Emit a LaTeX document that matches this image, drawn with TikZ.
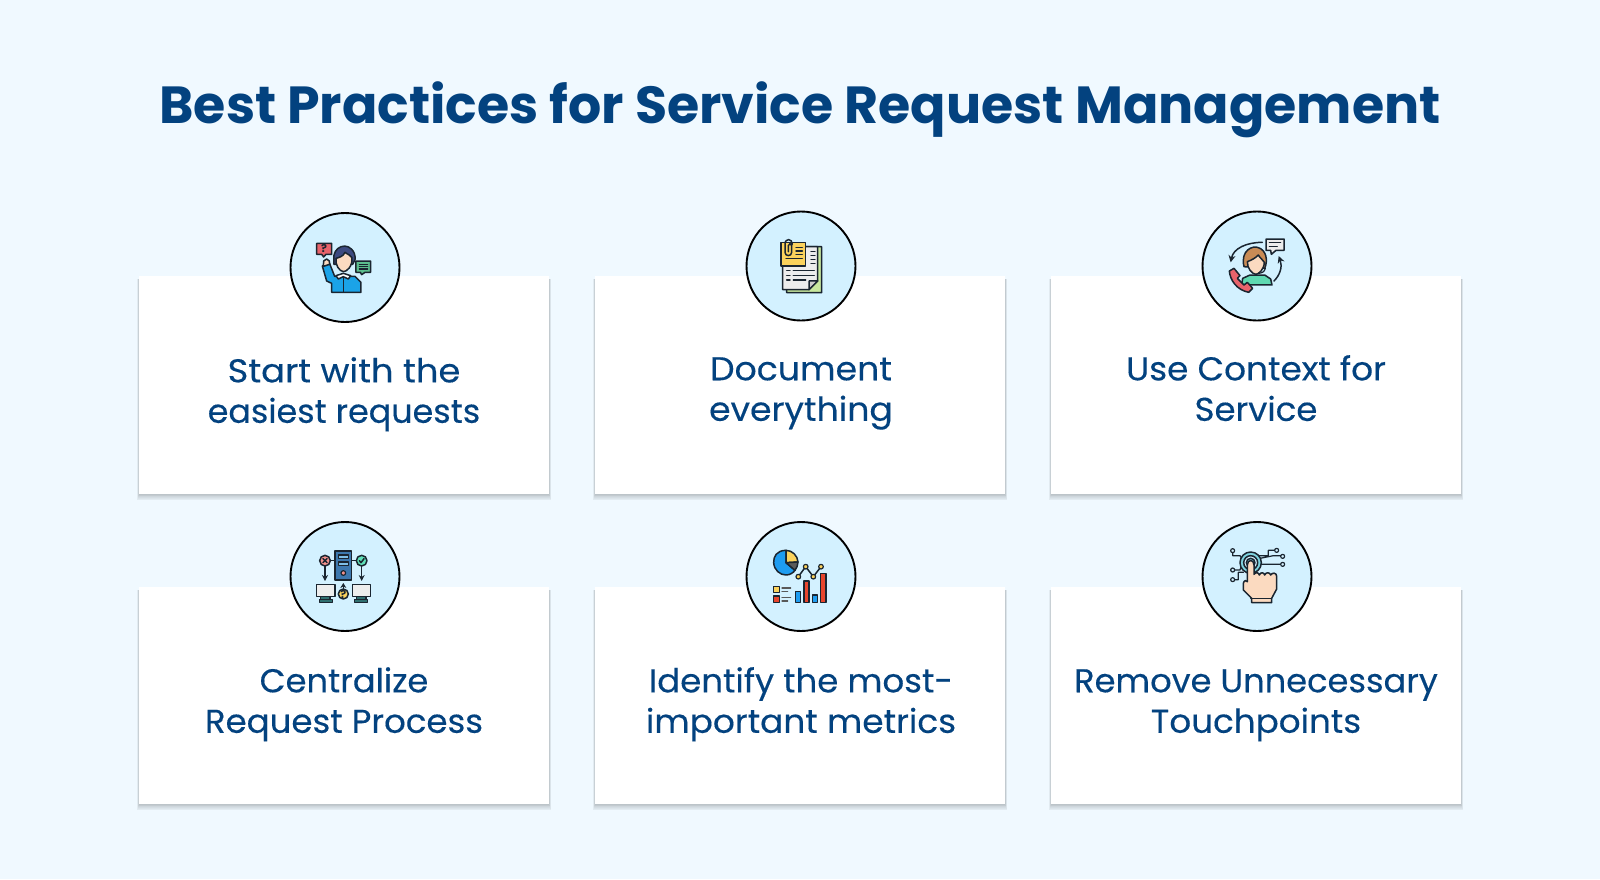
\documentclass[tikz,border=0pt]{standalone}
\usepackage{fontspec}
\usepackage{graphicx}
\setmainfont{Poppins}
\newfontfamily\bodyfont[FakeBold=0.3]{Poppins}
\usetikzlibrary{arrows.meta}
\definecolor{pagebg}{HTML}{F0F9FF}
\definecolor{navy}{HTML}{03427F}
\definecolor{disc}{HTML}{D3F1FF}
\definecolor{ink}{HTML}{1A2530}
\definecolor{skin}{HTML}{FBDAC0}
\definecolor{rosy}{HTML}{E8636B}
\definecolor{leaf}{HTML}{5CBF8E}
\definecolor{sky}{HTML}{1BA3E8}
\definecolor{hairdark}{HTML}{3C4A80}
\definecolor{hairtan}{HTML}{C98B55}
\definecolor{mint}{HTML}{5FD8B0}
\definecolor{sun}{HTML}{FBD25C}
\definecolor{paleleaf}{HTML}{C8E89E}
\definecolor{paper}{HTML}{EDEDED}
\definecolor{steel}{HTML}{3D78AE}
\definecolor{steellt}{HTML}{7FC0E8}
\definecolor{pinkish}{HTML}{F2918C}
\definecolor{aqua}{HTML}{5FE0B8}
\definecolor{darkteal}{HTML}{2F6F6F}
\definecolor{flame}{HTML}{E8452C}
\definecolor{pieblue}{HTML}{1E9CF0}
\definecolor{ringblue}{HTML}{7FD4E0}
\tikzset{
  x=1pt,y=-1pt,
  cardbox/.style={fill=white,draw=none},
  badge/.style={circle,draw=black,line width=1.9pt,fill=disc,minimum size=109pt,inner sep=0pt},
  cardtext/.style={font=\bodyfont\fontsize{33}{40.5}\selectfont,text=navy,align=center,inner sep=0pt,text depth=0pt},
  ol/.style={draw=ink,line width=1.5pt,line join=round,line cap=round},
  thin/.style={draw=ink,line width=1.2pt,line cap=round,line join=round},
}
\newcommand{\cardat}[5]{% name, x0,y0,x1,y1
  \foreach \o in {8,7,6,5,4,3,2,1}{
    \fill[black,opacity=.028] (#2-\o*.25,#3+3) rectangle (#4+\o*.25,#5+\o*.8);
  }
  \node[cardbox,anchor=north west,minimum width={#4-#2},minimum height={#5-#3},inner sep=0pt,outer sep=0pt] (#1) at (#2,#3) {};
}
\newcommand{\wline}[2]{\scalebox{#1}[1]{#2}}
\begin{document}
\begin{tikzpicture}
\useasboundingbox (0,0) rectangle (1600,879);
\fill[pagebg] (0,0) rectangle (1600,879);
\node[font=\fontsize{52.2}{60}\selectfont\bfseries,text=navy,inner sep=0pt] (title) at (800,110) {Best Practices for Service Request Management};

\cardat{c1}{139}{276}{549}{494}
\cardat{c2}{595}{276}{1005}{494}
\cardat{c3}{1051}{276}{1461}{494}
\cardat{c4}{139}{587}{549}{804}
\cardat{c5}{595}{587}{1005}{804}
\cardat{c6}{1051}{587}{1461}{804}

\node[badge] (b1) at (345,267.5) {};
\node[badge] (b2) at (801,266) {};
\node[badge] (b3) at (1257,266) {};
\node[badge] (b4) at (345,576.5) {};
\node[badge] (b5) at (801,576.5) {};
\node[badge] (b6) at (1257,576.5) {};

\node[cardtext] (t1) at (344,390) {\wline{1.07}{Start with the}\\\wline{1.01}{easiest requests}};
\node[cardtext] (t2) at (801,389) {\wline{1.05}{Document}\\\wline{1.05}{everything}};
\node[cardtext] (t3) at (1256,388) {\wline{1.04}{Use Context for}\\\wline{1.03}{Service}};
\node[cardtext] (t4) at (344,700) {\wline{1.02}{Centralize}\\\wline{1.03}{Request Process}};
\node[cardtext] (t5) at (801,700) {\wline{1.03}{Identify the most-}\\\wline{1.04}{important metrics}};
\node[cardtext] (t6) at (1256,701) {\wline{1.02}{Remove Unnecessary}\\\wline{1.035}{Touchpoints}};

% ---------- icon 1
\begin{scope}[shift={(280,205)},x=.3333pt,y=-.3333pt]
  \filldraw[ol,fill=rosy] (110,115) -- (155,115) -- (155,148) -- (138,148) -- (131,156) -- (125,148) -- (110,148) -- cycle;
  \node[font=\bfseries\fontsize{11}{11}\selectfont,text=ink,inner sep=0pt] (q1) at (132,131) {?};
  \filldraw[ol,fill=leaf] (228,168) -- (272,168) -- (272,202) -- (255,202) -- (245,209) -- (241,202) -- (228,202) -- cycle;
  \draw[thin] (238,178)--(263,178) (238,185)--(263,185) (238,192)--(263,192);
  \filldraw[ol,fill=sky] (127,183) -- (149,176) -- (164,214) -- (225,214) -- (243,232) -- (243,262) -- (155,262) -- (155,235) -- (140,228) -- cycle;
  \filldraw[ol,fill=skin] (130,184) -- (131,168) -- (140,162) -- (148,168) -- (149,178) -- cycle;
  \filldraw[ol,fill=white] (168,212) -- (190,205) -- (212,212) -- (205,222) -- (190,215) -- (175,222) -- cycle;
  \draw[thin] (190,216) -- (190,262);
  \filldraw[ol,fill=hairdark] (162,165) .. controls (155,125) and (205,105) .. (223,145) .. controls (228,160) and (225,170) .. (218,178) -- (162,178) -- cycle;
  \filldraw[ol,fill=skin] (168,160) .. controls (175,158) and (190,155) .. (195,142) .. controls (205,150) and (212,150) .. (216,158) .. controls (218,185) and (200,200) .. (190,200) .. controls (178,198) and (165,180) .. (168,160) -- cycle;
\end{scope}

% ---------- icon 2
\begin{scope}[shift={(735,205)},x=.3333pt,y=-.3333pt]
  \filldraw[ol,fill=paleleaf] (190,125) -- (260,125) -- (260,263) -- (155,263) -- (155,245) -- cycle;
  \filldraw[ol,fill=paper] (143,125) -- (248,125) -- (248,228) -- (222,254) -- (143,254) -- cycle;
  \filldraw[ol,fill=gray!40] (222,254) -- (222,228) -- (248,228) -- cycle;
  \draw[thin,line width=1.4pt] (228,140)--(240,140) (228,152)--(240,152) (228,164)--(240,164) (228,176)--(240,176);
  \draw[thin,line width=1.4pt] (155,197)--(165,197) (175,197)--(238,197) (155,211)--(165,211) (175,211)--(238,211) (155,225)--(165,225) (175,225)--(212,225);
  \filldraw[ol,fill=sun] (138,112) -- (212,112) -- (212,183) -- (138,183) -- cycle;
  \draw[ol] (172,118) .. controls (172,100) and (150,98) .. (150,118) -- (150,142) .. controls (150,155) and (170,155) .. (170,142) -- (170,122) .. controls (170,114) and (160,114) .. (160,122) -- (160,140);
  \draw[thin,line width=1.4pt] (183,128)--(202,128) (183,138)--(202,138) (183,148)--(202,148) (153,160)--(202,160);
\end{scope}

% ---------- icon 3
\begin{scope}[shift={(1190,205)},x=.3333pt,y=-.3333pt]
  \draw[ol,-{Stealth[length=7pt,width=7pt]}] (217,112) .. controls (170,112) and (130,130) .. (122,172);
  \draw[ol,-{Stealth[length=7pt,width=7pt]}] (252,228) .. controls (270,210) and (278,185) .. (266,153);
  \filldraw[ol,fill=paper] (228,102) -- (282,102) -- (282,136) -- (258,136) -- (244,148) -- (242,136) -- (228,136) -- cycle;
  \draw[thin] (238,113)--(272,113) (238,124)--(262,124);
  \filldraw[ol,fill=mint] (155,240) -- (158,220) -- (180,210) -- (224,210) -- (242,222) -- (246,240) -- cycle;
  \filldraw[ol,fill=hairtan] (162,185) .. controls (150,135) and (190,120) .. (205,128) .. controls (228,135) and (235,165) .. (224,190) -- cycle;
  \filldraw[ol,fill=skin] (172,170) .. controls (185,165) and (195,160) .. (205,150) .. controls (210,160) and (220,165) .. (223,172) .. controls (222,195) and (205,208) .. (197,208) .. controls (185,206) and (172,190) .. (172,170) -- cycle;
  \draw[thin] (226,190) .. controls (224,200) and (215,205) .. (205,205);
  \filldraw[ol,fill=rosy] (118,198) -- (132,190) -- (150,212) -- (142,220) -- (162,240) -- (172,232) -- (188,250) -- (176,262) .. controls (140,255) and (120,225) .. (118,198) -- cycle;
\end{scope}

% ---------- icon 4
\begin{scope}[shift={(280,515)},x=.3333pt,y=-.3333pt]
  \draw[thin] (150,137)--(166,137) (214,137)--(230,137);
  \draw[ol,-{Stealth[length=6pt,width=6pt]}] (135,153)--(135,198);
  \draw[ol,-{Stealth[length=6pt,width=6pt]}] (245,153)--(245,198);
  \filldraw[ol,fill=steel] (165,108) rectangle (215,195);
  \filldraw[thin,fill=steellt] (175,120) rectangle (205,131);
  \filldraw[thin,fill=steellt] (175,141) rectangle (205,152);
  \filldraw[thin,fill=pinkish] (190,174) circle (7);
  \filldraw[ol,fill=pinkish] (135,137) circle (16);
  \draw[ol] (129,131)--(141,143) (129,143)--(141,131);
  \filldraw[ol,fill=aqua] (245,137) circle (16);
  \draw[ol] (238,137)--(243,143)--(252,131);
  \filldraw[thin,fill=darkteal] (122,245) rectangle (150,253);
  \filldraw[thin,fill=darkteal] (118,253) rectangle (157,262);
  \filldraw[thin,fill=darkteal] (230,245) rectangle (258,253);
  \filldraw[thin,fill=darkteal] (223,253) rectangle (262,262);
  \filldraw[ol,fill=paper] (110,208) rectangle (165,245);
  \filldraw[ol,fill=paper] (217,208) rectangle (271,245);
  \draw[ol,-{Stealth[length=5pt,width=6pt]}] (190,222)--(190,204);
  \filldraw[ol,fill=sun] (190,237) circle (15);
  \node[font=\bfseries\fontsize{11}{11}\selectfont,text=ink,inner sep=0pt] (q4) at (190,237) {?};
\end{scope}

% ---------- icon 5
\begin{scope}[shift={(735,515)},x=.3333pt,y=-.3333pt]
  \filldraw[ol,fill=pieblue] (153,143) -- (153,106) .. controls (125,106) and (115,125) .. (116,143) .. controls (117,165) and (135,180) .. (153,180) .. controls (165,180) and (175,173) .. (180,166) -- cycle;
  \filldraw[ol,fill=sun] (153,143) -- (153,106) .. controls (172,106) and (188,122) .. (189,141) -- cycle;
  \filldraw[ol,fill=gray!70!black] (153,143) -- (189,141) .. controls (189,150) and (185,160) .. (180,166) -- cycle;
  \draw[ol] (190,185)--(212,155)--(235,185)--(258,155);
  \foreach \px/\py in {190/185,212/155,235/185,258/155}
    \filldraw[thin,fill=sun] (\px,\py) circle (7);
  \filldraw[ol,fill=pieblue] (181,230) rectangle (197,262);
  \filldraw[ol,fill=flame] (207,198) rectangle (222,262);
  \filldraw[ol,fill=pieblue] (232,240) rectangle (248,262);
  \filldraw[ol,fill=flame] (257,175) rectangle (273,262);
  \filldraw[ol,fill=sun] (115,215) rectangle (133,233);
  \filldraw[ol,fill=flame] (115,243) rectangle (133,262);
  \draw[thin,draw=gray!70!black] (141,219)--(167,219) (141,229)--(158,229) (141,248)--(167,248) (141,258)--(158,258);
\end{scope}

% ---------- icon 6
\begin{scope}[shift={(1190,515)},x=.3333pt,y=-.3333pt]
  \draw[thin] (128,107)--(128,122)--(150,122)--(155,130)
    (128,165)--(150,165)--(155,150)
    (128,194)--(145,194)--(145,172)--(160,172)
    (205,122)--(235,122)--(235,106)--(260,106)
    (210,130)--(250,122)--(278,122)
    (212,148)--(278,148);
  \foreach \px/\py in {128/107,128/165,128/194,260/106,278/124,278/148}
    \filldraw[thin,fill=disc] (\px,\py) circle (6);
  \filldraw[ol,fill=ringblue] (182,143) circle (32);
  \filldraw[ol,fill=disc] (182,143) circle (21);
  \filldraw[ol,fill=ringblue] (182,143) circle (13);
  \filldraw[ol,fill=skin] (172,150) .. controls (172,132) and (192,132) .. (192,150) -- (192,178)
    .. controls (198,170) and (205,172) .. (208,180) .. controls (212,170) and (222,172) .. (224,180)
    .. controls (228,170) and (240,172) .. (242,180) .. controls (246,172) and (260,172) .. (260,184)
    -- (260,222) -- (245,250) -- (245,263) -- (185,263) -- (185,250) -- (160,225) -- (160,205)
    .. controls (162,195) and (170,195) .. (172,200) -- cycle;
  \draw[thin] (182,250)--(245,250);
\end{scope}
\end{tikzpicture}
\end{document}
